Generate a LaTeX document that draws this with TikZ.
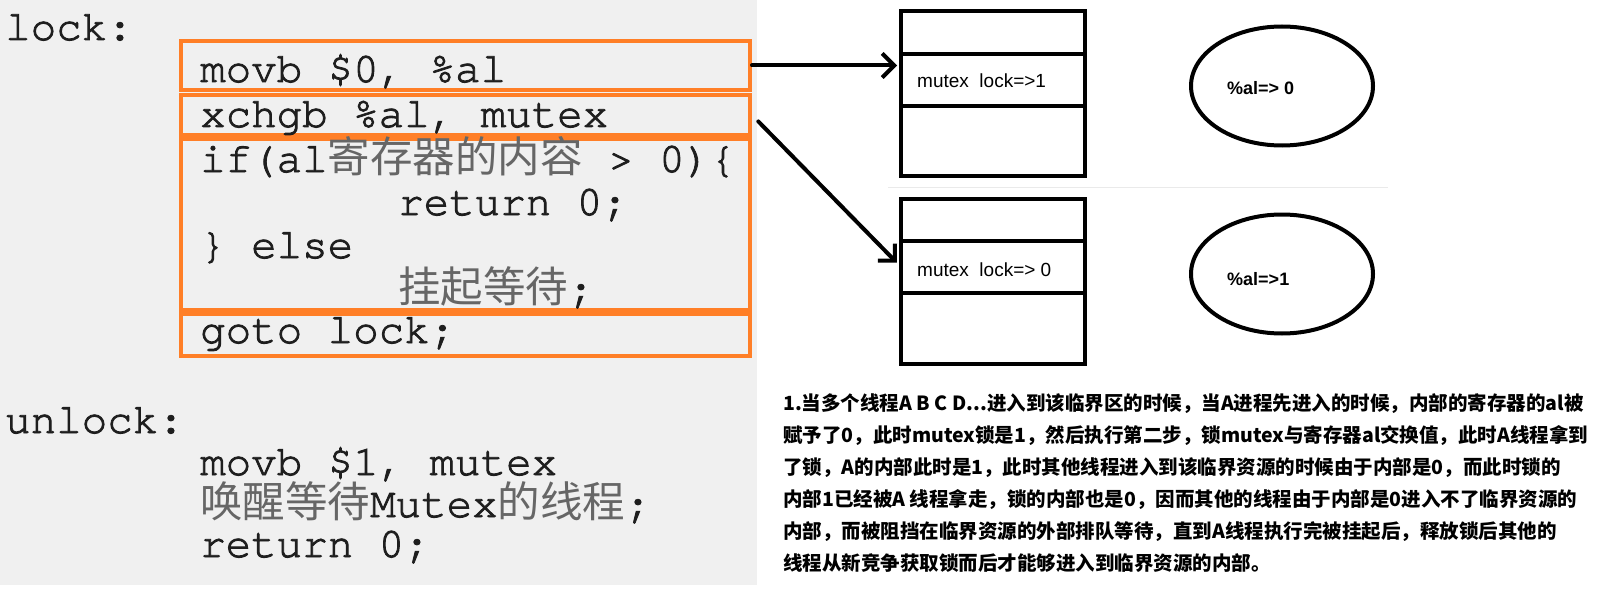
\documentclass[tikz,border=0pt]{standalone}
\usepackage{fontspec}
\setmainfont{Liberation Sans}
\setmonofont{TeX Gyre Cursor}[FakeBold=2]
\newfontfamily\cjk{Noto Sans CJK SC}
\usetikzlibrary{arrows.meta,shapes.geometric,positioning}

\definecolor{codebg}{HTML}{F0F0F0}
\definecolor{paint}{HTML}{FF7F27}
\definecolor{codeink}{HTML}{1E1E1E}
\definecolor{zhink}{HTML}{666666}
\definecolor{rulegray}{HTML}{EAEAEA}
\newcommand{\zh}[1]{{\cjk\color{zhink}#1}}

\tikzset{
	code/.style={anchor=base west, inner sep=0pt, text=codeink,
		font=\ttfamily\fontsize{42.5}{43}\selectfont},
	row/.style={draw=paint, line width=4pt, minimum width=569pt, inner sep=0pt},
	cell/.style={draw, line width=4pt, minimum width=184pt, inner sep=0pt, outer sep=0pt},
	reg/.style={ellipse, draw, line width=4pt, minimum width=182pt, minimum height=119pt, inner sep=0pt},
	lbl/.style={anchor=base west, inner sep=0pt, font=\fontsize{19}{21}\selectfont},
	val/.style={anchor=base west, inner sep=0pt, font=\bfseries\fontsize{18}{20}\selectfont},
	note/.style={anchor=base west, inner sep=0pt, font=\cjk\bfseries\fontsize{19.5}{32}\selectfont},
	arr/.style={-{Straight Barb[length=12pt,width=24pt]}, line width=4pt, line cap=round, line join=round},
}

\begin{document}
\begin{tikzpicture}[x=1pt,y=-1pt]
	\useasboundingbox (0,0) rectangle (1598,599);

	% code panel
	\fill[codebg] (0,0) rectangle (757,585);

	\node[code] (lock) at (5,40) {lock:};
	\node[row, minimum height=49pt] (movrow) at (465.5,65.5) {};
	\node[row, minimum height=40pt] (xchgrow) at (465.5,115) {};
	\node[row, minimum height=171pt] (ifrow) at (465.5,224.5) {};
	\node[row, minimum height=42pt] (gotorow) at (465.5,335) {};

	\node[code] (c1) at (200,82) {movb \$0, \%al};
	\node[code] (c2) at (200,127) {xchgb \%al, mutex};
	\node[code] (c3) at (200,172) {if(al\zh{寄存器的内容} > 0)\{};
	\node[code] (c4) at (398,215) {return 0;};
	\node[code] (c5) at (200,258) {\} else};
	\node[code] (c6) at (398,302) {\zh{挂起等待};};
	\node[code] (c7) at (200,343) {goto lock;};

	\node[code] (unlock) at (5,433) {unlock:};
	\node[code] (u1) at (200,475) {movb \$1, mutex};
	\node[code] (u2) at (200,517) {\zh{唤醒等待}Mutex\zh{的线程};};
	\node[code] (u3) at (200,557) {return 0;};

	% mutex before / after
	\node[cell, minimum height=43pt] (memAtop) at (993,32.5) {};
	\node[cell, minimum height=52pt, below=0pt of memAtop] (memAmid) {};
	\node[cell, minimum height=70pt, below=0pt of memAmid] (memAbot) {};
	\node[lbl] (lockA) at (917,88) {mutex\ \ lock=>1};

	\node[cell, minimum height=42pt] (memBtop) at (993,220) {};
	\node[cell, minimum height=52pt, below=0pt of memBtop] (memBmid) {};
	\node[cell, minimum height=71pt, below=0pt of memBmid] (memBbot) {};
	\node[lbl] (lockB) at (917,276) {mutex\ \ lock=> 0};

	\draw[rulegray, line width=1pt] (888,187) -- (1388,187);

	% register al
	\node[reg] (regA) at (1282,86) {};
	\node[val] (alA) at (1227,95) {\%al=> 0};
	\node[reg] (regB) at (1282,274) {};
	\node[val] (alB) at (1227,285) {\%al=>1};

	% arrows
	\draw[arr, shorten >=4pt] (movrow.east) -- (movrow.east -| memAmid.west);
	\draw[arr, shorten <=9pt, shorten >=6pt] (xchgrow.east) -- (memBmid.west);

	% explanation
	\node[note] (p1) at (783,410) {1.当多个线程A B C D...进入到该临界区的时候，当A进程先进入的时候，内部的寄存器的al被};
	\node[note] (p2) at (783,442) {赋予了0，此时mutex锁是1，然后执行第二步，锁mutex与寄存器al交换值，此时A线程拿到};
	\node[note] (p3) at (783,474) {了锁，A的内部此时是1，此时其他线程进入到该临界资源的时候由于内部是0，而此时锁的};
	\node[note] (p4) at (783,506) {内部1已经被A 线程拿走，锁的内部也是0，因而其他的线程由于内部是0进入不了临界资源的};
	\node[note] (p5) at (783,538) {内部，而被阻挡在临界资源的外部排队等待，直到A线程执行完被挂起后，释放锁后其他的};
	\node[note] (p6) at (783,570) {线程从新竞争获取锁而后才能够进入到临界资源的内部。};

\end{tikzpicture}
\end{document}
